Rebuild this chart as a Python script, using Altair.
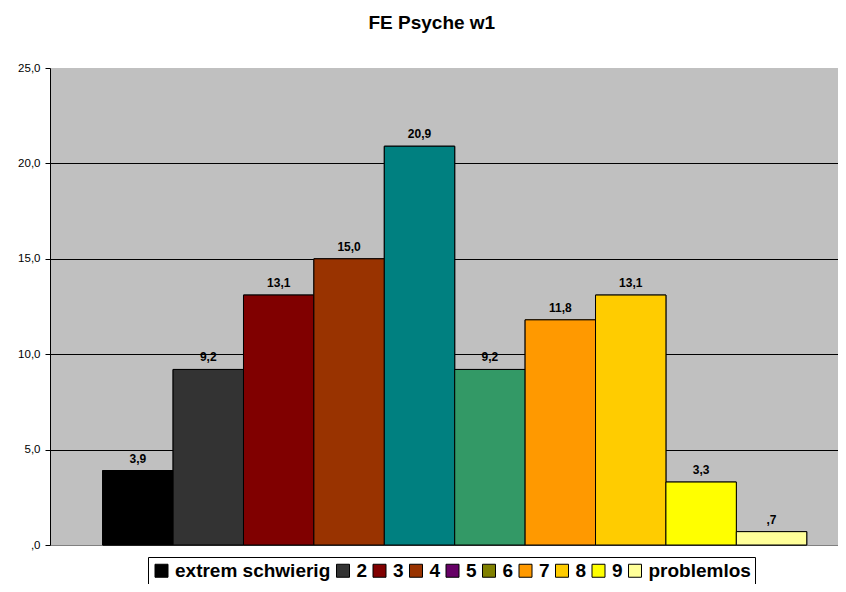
import altair as alt
import pandas as pd

categories = ["extrem schwierig", "2", "3", "4", "5", "6", "7", "8", "9", "problemlos"]
values = [3.9, 9.2, 13.1, 15.0, 20.9, 9.2, 11.8, 13.1, 3.3, 0.7]
bar_colors = ["#000000", "#333333", "#800000", "#993300", "#008080",
              "#339966", "#FF9900", "#FFCC00", "#FFFF00", "#FFFF99"]
legend_colors = ["#000000", "#333333", "#800000", "#993300", "#660066",
                 "#808000", "#FF9900", "#FFCC00", "#FFFF00", "#FFFF99"]
y_ticks = [0, 5, 10, 15, 20, 25]

df = pd.DataFrame({"cat": categories, "value": values})

FONT = "Liberation Sans"

x_enc = alt.X("cat:N", sort=categories,
              scale=alt.Scale(paddingInner=0, paddingOuter=0.653, align=0.573),
              axis=None)
y_enc = alt.Y("value:Q",
              scale=alt.Scale(domain=[0, 25], nice=False),
              axis=alt.Axis(values=y_ticks, title=None,
                            labelExpr="datum.value == 0 ? ',0' : datum.value + ',0'",
                            labelFont=FONT, labelFontSize=11.5, labelColor="black",
                            labelPadding=5, tickSize=5, tickColor="black",
                            domainColor="black", grid=True,
                            gridColor={"expr": "datum.value == 25 ? '#C0C0C0' : (datum.value == 0 ? '#808080' : '#000000')"},
                            gridWidth=1, gridOpacity=1))

base = alt.Chart(df)

legend_layer = base.mark_bar(stroke="black", strokeWidth=1).encode(
    x=x_enc, y=y_enc,
    fill=alt.Fill("cat:N", sort=categories,
                  scale=alt.Scale(domain=categories, range=legend_colors),
                  legend=alt.Legend(title=None, orient="none", legendX=98, legendY=489,
                                    direction="horizontal", columns=10,
                                    strokeColor="black", fillColor="white", padding=4,
                                    symbolType="square", symbolSize=169,
                                    symbolStrokeColor="black", symbolStrokeWidth=1,
                                    labelFont=FONT, labelFontSize=19, labelFontWeight="bold",
                                    labelColor="black", labelLimit=0, labelOffset=4,
                                    columnPadding=2.5, cornerRadius=0)),
)

bars = base.mark_bar(stroke="black", strokeWidth=1).encode(
    x=x_enc, y=y_enc,
    color=alt.Color("cat:N", sort=categories,
                    scale=alt.Scale(domain=categories, range=bar_colors),
                    legend=None),
)

labels = base.mark_text(font=FONT, fontSize=12, fontWeight="bold", color="black",
                        baseline="bottom", dy=-5).transform_calculate(
    label="(datum.value < 1 ? '' : toString(floor(datum.value))) + ',' + toString(round(datum.value * 10) % 10)"
).encode(x=x_enc, y=y_enc, text="label:N")

chart = alt.layer(legend_layer, bars, labels).properties(
    width=796, height=477,
    title=alt.TitleParams("FE Psyche w1", font=FONT, fontSize=19, fontWeight="bold",
                          color="black", anchor="middle", frame="bounds", offset=29),
    autosize=alt.AutoSizeParams(type="none"),
    padding={"left": 42, "top": 60, "right": -8, "bottom": 39},
).configure(background="white").configure_view(fill="#C0C0C0", stroke=None)

chart.save("out.html", embed_options={"renderer": "svg", "actions": False})
